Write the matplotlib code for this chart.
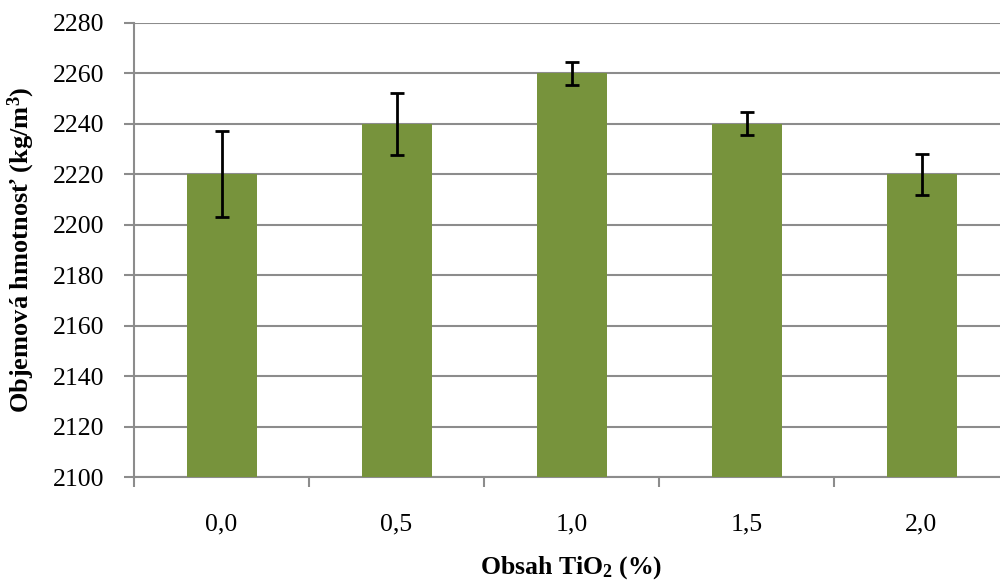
import matplotlib
matplotlib.use("Agg")
import matplotlib.pyplot as plt
import numpy as np

categories = ["0,0", "0,5", "1,0", "1,5", "2,0"]
values = [2220, 2240, 2260, 2240, 2220]
errors = [17, 12.3, 4.5, 4.5, 8.2]
yticks = [2100, 2120, 2140, 2160, 2180, 2200, 2220, 2240, 2260, 2280]

plt.rcParams['font.family'] = ['Liberation Serif', 'DejaVu Serif']
plt.rcParams['mathtext.fontset'] = 'custom'
plt.rcParams['mathtext.rm'] = 'Liberation Serif'
plt.rcParams['mathtext.bf'] = 'Liberation Serif:bold'
plt.rcParams['mathtext.it'] = 'Liberation Serif:italic'

fig = plt.figure(figsize=(10, 5.86), dpi=100)
ax = fig.add_axes([0.134, 0.186, 0.875, 0.775])

x = np.arange(len(categories))
ax.bar(x, values, width=0.4, color='#77933C', zorder=3)
ax.errorbar(x, values, yerr=errors, fmt='none', ecolor='black', elinewidth=2,
            capsize=5, capthick=2, zorder=4)

ax.set_ylim(2100, 2280)
ax.set_xlim(-0.5, len(categories) - 0.5)
ax.set_yticks(yticks)
ax.yaxis.grid(True, color='#8c8c8c', linewidth=1.5, zorder=0)
ax.set_axisbelow(True)

ax.set_xticks(x)
ax.set_xticklabels(categories)
ax.set_xticks(np.arange(-0.5, len(categories), 1.0), minor=True)
ax.tick_params(axis='x', which='major', length=0, pad=26, labelsize=18.5)
ax.tick_params(axis='x', which='minor', length=7, width=1.5, color='#8c8c8c', direction='out')
ax.tick_params(axis='y', length=7, width=1.5, color='#8c8c8c', labelsize=18.5, pad=14)

for s in ['top', 'right']:
    ax.spines[s].set_visible(False)
for s in ['left', 'bottom']:
    ax.spines[s].set_color('#8c8c8c')
    ax.spines[s].set_linewidth(1.5)

ax.set_xlabel('Obsah TiO$_\\mathbf{2}$ (%)', fontsize=18.5, fontweight='bold', labelpad=14)
ax.set_ylabel('Objemová hmotnosť (kg/m$^\\mathbf{3}$)', fontsize=19, fontweight='bold', labelpad=12)

fig.savefig('out.png', dpi=100)
